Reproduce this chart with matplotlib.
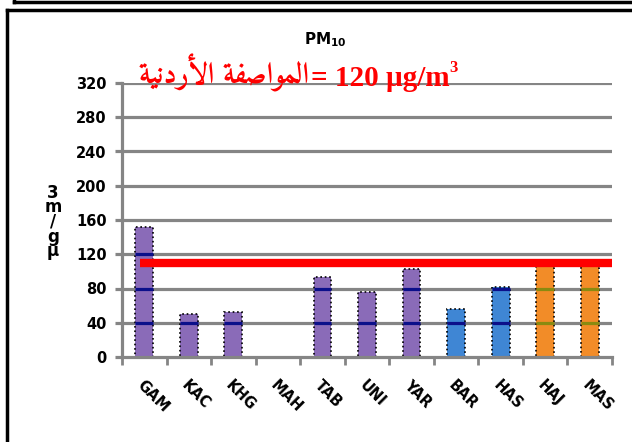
import matplotlib
matplotlib.use('Agg')
import matplotlib.pyplot as plt
from matplotlib.lines import Line2D
import numpy as np

stations = ['GAM', 'KAC', 'KHG', 'MAH', 'TAB', 'UNI', 'YAR', 'BAR', 'HAS', 'HAJ', 'MAS']
pm10 = [152, 50, 53, 0, 94, 76, 103, 56, 82, 112, 106]
groups = ['p', 'p', 'p', 'p', 'p', 'p', 'p', 'b', 'b', 'o', 'o']
limit = 110
yticks = [0, 40, 80, 120, 160, 200, 240, 280, 320]

fill = {'p': '#8a6bb8', 'b': '#3f86d4', 'o': '#f28c28'}
band = {'p': '#0b0f8a', 'b': '#0b0f8a', 'o': '#8a8a10'}

# arabic text already in visual order (presentation forms)
w1 = '\ufe94\ufed4\ufebb\ufe8d\ufeee\ufee4\ufedf\ufe8d'
w2 = '\ufe94\ufef4\ufee7\ufea9\ufead\ufef7\ufe8d'

fig = plt.figure(figsize=(6.32, 4.42), dpi=100)
ax = fig.add_axes([122/632, 1-357/442, (612-122)/632, (357-83)/442])

x = np.arange(len(stations))
gray = '#858585'
for t in yticks[1:]:
    ax.axhline(t, color=gray, lw=2.3, zorder=1)

cols = [fill[g] for g in groups]
ax.bar(x, pm10, width=0.4, color=cols, edgecolor='black', linestyle=':', lw=1.2, zorder=2)

# darker grid pieces inside bars
for xi, v, g in zip(x, pm10, groups):
    for t in yticks[1:]:
        if t < v:
            ax.plot([xi-0.2, xi+0.2], [t, t], color=band[g], lw=2.3, zorder=3,
                    solid_capstyle='butt')

ax.plot([-0.1, 10.5], [limit, limit], color='red', lw=6, zorder=4, solid_capstyle='butt')

ax.set_xlim(-0.5, 10.5)
ax.set_ylim(0, 320)
ax.set_yticks(yticks)
ax.set_yticklabels([str(t) for t in yticks], fontsize=10.5, fontweight='bold')
ax.set_xticks(x)
ax.set_xticklabels(stations, rotation=-45, ha='left', va='top', rotation_mode='anchor',
                   fontsize=10.5, fontweight='bold')
ax.set_xticks(np.arange(-0.5, 11, 1), minor=True)
ax.tick_params(axis='x', which='major', length=0, pad=15)
ax.tick_params(axis='x', which='minor', length=6, width=2, color=gray)
ax.tick_params(axis='y', length=5, width=2.3, color=gray, pad=6)
for s in ['top', 'right']:
    ax.spines[s].set_visible(False)
for s in ['left', 'bottom']:
    ax.spines[s].set_color(gray)
    ax.spines[s].set_linewidth(2.3)

fig.text(325/632, 1-40/442, 'PM$_{\\mathbf{10}}$', ha='center', va='center',
         fontsize=11, fontweight='bold')
fig.text(309/632, 1-84/442, w2 + ' ' + w1, ha='right', va='baseline', color='red',
         fontsize=21.5, fontweight='bold', family=['Amiri', 'DejaVu Sans'])
fig.text(311/632, 1-86/442, '= 120 \u00b5g/m', ha='left', va='baseline', color='red',
         fontsize=21, fontweight='bold', family=['Liberation Serif', 'DejaVu Sans'])
fig.text(449/632, 1-72/442, '3', ha='left', va='baseline', color='red',
         fontsize=12, fontweight='bold', family='Liberation Serif')
fig.text(53/632, 1-222/442, '3\nm\n/\ng\n\u00b5', ha='center', va='center',
         fontsize=12, fontweight='bold', linespacing=0.75)

# frame lines
fig.add_artist(Line2D([7/632, 1], [1-10/442, 1-10/442], color='black', lw=2.5))
fig.add_artist(Line2D([7/632, 7/632], [0, 1-10/442], color='black', lw=2.5))
fig.add_artist(Line2D([14/632, 1], [1-2/442, 1-2/442], color='black', lw=2.5))
fig.add_artist(Line2D([14/632, 14/632], [1-2/442, 1], color='black', lw=2.5))

fig.savefig('out.png', dpi=100)
